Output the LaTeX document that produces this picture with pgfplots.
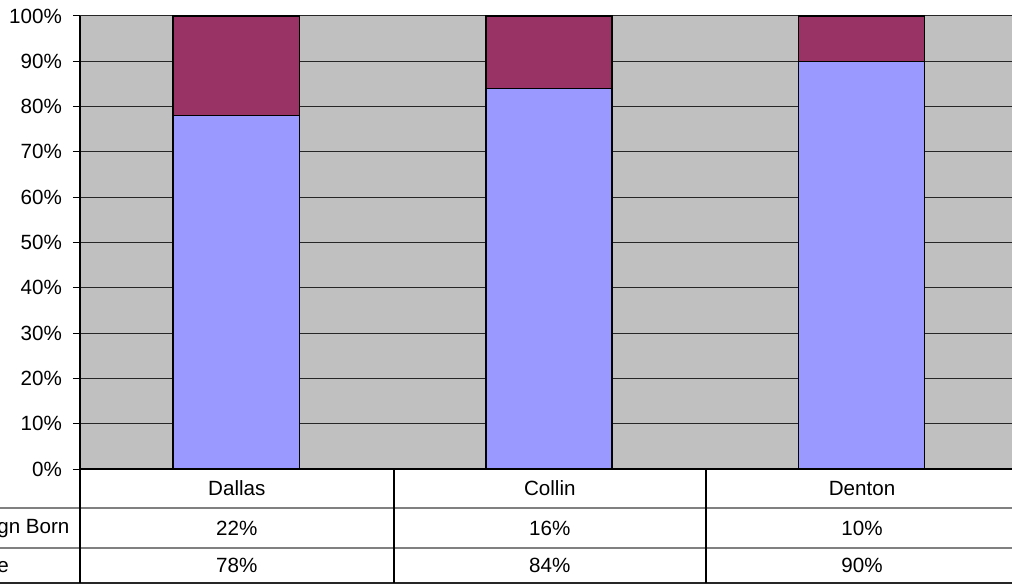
\documentclass[border=0pt]{standalone}
\usepackage{pgfplots}
\usepackage{pgfplotstable}
\pgfplotsset{compat=1.18}
\usepackage{fontspec}
\setmainfont{Liberation Sans}
\definecolor{bggray}{HTML}{C0C0C0}
\definecolor{native}{HTML}{9999FF}
\definecolor{foreign}{HTML}{993366}
\definecolor{tblgray}{HTML}{808080}
\pgfplotstableread{
x native foreign
0 78 22
1 84 16
2 90 10
}\data
\begin{document}
\begin{tikzpicture}[font=\fontsize{10.3}{12.4}\selectfont]
\useasboundingbox (-40pt,-57.5pt) rectangle (466pt,234.5pt);
\clip (-40pt,-57.5pt) rectangle (466pt,234.5pt);
\begin{axis}[
  scale only axis, width=468.75pt, height=226.5pt,
  xmin=-0.5, xmax=2.5, ymin=0, ymax=100,
  ybar stacked, bar width=63pt,
  axis background/.style={fill=bggray},
  ymajorgrids, grid style={black!85, line width=0.5pt},
  ytick={0,10,...,100},
  yticklabels={0\%,10\%,20\%,30\%,40\%,50\%,60\%,70\%,80\%,90\%,100\%},
  xtick=\empty,
  axis x line*=bottom, axis y line*=left,
  axis line style={black, line width=0.8pt},
  tick align=outside, major tick length=3.5pt,
  ytick style={black, line width=0.5pt},
  yticklabel style={xshift=-2pt},
]
\addplot[fill=native, draw=black, line width=0.75pt] table[x=x,y=native]{\data};
\addplot[fill=foreign, draw=black, line width=0.75pt] table[x=x,y=foreign]{\data};
\end{axis}
% data table below the plot
\draw[tblgray, line width=0.9pt] (-40pt,-19.5pt) -- (470pt,-19.5pt);
\draw[tblgray, line width=0.9pt] (-40pt,-39.5pt) -- (470pt,-39.5pt);
\draw[black!85, line width=0.8pt] (-40pt,-57pt) -- (470pt,-57pt);
\draw[black, line width=0.8pt] (0pt,0pt) -- (0pt,-57pt);
\draw[black, line width=0.8pt] (156.9pt,0pt) -- (156.9pt,-57pt);
\draw[black, line width=0.8pt] (313pt,0pt) -- (313pt,-57pt);
\node at (78.4pt,-9.75pt) {Dallas};
\node at (234.9pt,-9.75pt) {Collin};
\node at (391pt,-9.75pt) {Denton};
\node[anchor=west, inner sep=0pt] at (-65pt,-29.5pt) {Foreign Born};
\node[anchor=west, inner sep=0pt] at (-65pt,-48.25pt) {Native};
\node at (78.4pt,-29.5pt) {22\%};
\node at (234.9pt,-29.5pt) {16\%};
\node at (391pt,-29.5pt) {10\%};
\node at (78.4pt,-48.25pt) {78\%};
\node at (234.9pt,-48.25pt) {84\%};
\node at (391pt,-48.25pt) {90\%};
\end{tikzpicture}
\end{document}
